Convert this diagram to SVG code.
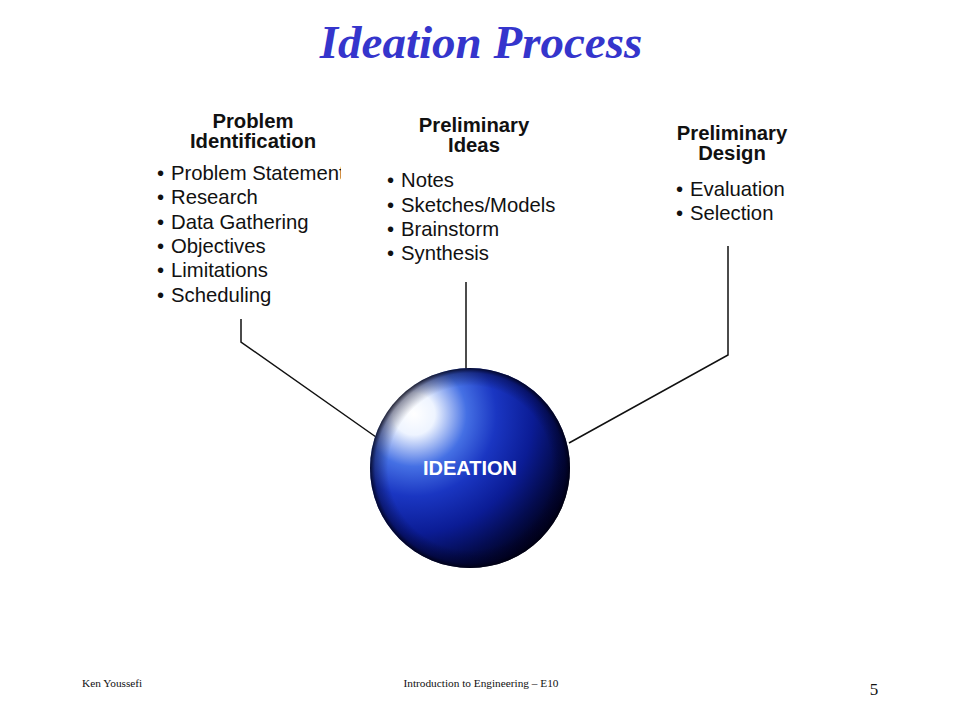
<svg xmlns="http://www.w3.org/2000/svg" width="960" height="720" viewBox="0 0 960 720">
<defs>
<radialGradient id="sph" cx="414" cy="414" r="175" gradientUnits="userSpaceOnUse">
<stop offset="0" stop-color="#ffffff"/>
<stop offset="0.12" stop-color="#eef4ff"/>
<stop offset="0.3" stop-color="#4570e4"/>
<stop offset="0.47" stop-color="#1a36c2"/>
<stop offset="0.68" stop-color="#0b1c95"/>
<stop offset="0.85" stop-color="#040c50"/>
<stop offset="1" stop-color="#000018"/>
</radialGradient>
<radialGradient id="vig" cx="470" cy="468" r="100" gradientUnits="userSpaceOnUse">
<stop offset="0.82" stop-color="#000020" stop-opacity="0"/>
<stop offset="0.95" stop-color="#000020" stop-opacity="0.4"/>
<stop offset="1" stop-color="#000010" stop-opacity="0.85"/>
</radialGradient>
<clipPath id="clipL"><rect x="140" y="160" width="201" height="30"/></clipPath>
<style>
.hd{font-family:"Liberation Sans",Arial,sans-serif;font-weight:bold;font-size:20.3px;fill:#111;text-anchor:middle}
.it{font-family:"Liberation Sans",Arial,sans-serif;font-size:20.3px;fill:#111}
.ft{font-family:"Liberation Serif","Times New Roman",serif;font-size:11.3px;fill:#111}
.cn{fill:none;stroke:#111;stroke-width:1.5}
</style>
</defs>
<rect width="960" height="720" fill="#fff"/>
<text x="481" y="58" text-anchor="middle" font-family="Liberation Serif,Times New Roman,serif" font-weight="bold" font-style="italic" font-size="47" fill="#3535cc">Ideation Process</text>
<g id="connectors">
<polyline class="cn" points="241,319 241,342 376,437"/>
<polyline class="cn" points="466,282 466,372"/>
<polyline class="cn" points="728,246 728,355 569,443"/>
</g>
<g id="problem-identification">
<text class="hd" x="253" y="128">Problem</text>
<text class="hd" x="253" y="148">Identification</text>
<g class="it">
<text x="157" y="180" clip-path="url(#clipL)">•<tspan x="171">Problem Statement</tspan></text>
<text x="157" y="204">•<tspan x="171">Research</tspan></text>
<text x="157" y="229">•<tspan x="171">Data Gathering</tspan></text>
<text x="157" y="253">•<tspan x="171">Objectives</tspan></text>
<text x="157" y="277">•<tspan x="171">Limitations</tspan></text>
<text x="157" y="302">•<tspan x="171">Scheduling</tspan></text>
</g>
</g>
<g id="preliminary-ideas">
<text class="hd" x="474" y="132">Preliminary</text>
<text class="hd" x="474" y="152">Ideas</text>
<g class="it">
<text x="387" y="187">•<tspan x="401">Notes</tspan></text>
<text x="387" y="212">•<tspan x="401">Sketches/Models</tspan></text>
<text x="387" y="236">•<tspan x="401">Brainstorm</tspan></text>
<text x="387" y="260">•<tspan x="401">Synthesis</tspan></text>
</g>
</g>
<g id="preliminary-design">
<text class="hd" x="732" y="140">Preliminary</text>
<text class="hd" x="732" y="160">Design</text>
<g class="it">
<text x="676" y="196">•<tspan x="690">Evaluation</tspan></text>
<text x="676" y="220">•<tspan x="690">Selection</tspan></text>
</g>
</g>
<g id="ideation">
<circle cx="470" cy="468" r="100" fill="url(#sph)"/>
<circle cx="470" cy="468" r="100" fill="url(#vig)"/>
<text x="470" y="475" text-anchor="middle" font-family="Liberation Sans,Arial,sans-serif" font-weight="bold" font-size="20" fill="#fff">IDEATION</text>
</g>
<g id="footer">
<text class="ft" x="82" y="687">Ken Youssefi</text>
<text class="ft" x="481" y="687" text-anchor="middle">Introduction to Engineering – E10</text>
<text x="874" y="695" text-anchor="middle" font-family="Liberation Serif,Times New Roman,serif" font-size="17" fill="#111">5</text>
</g>
</svg>
